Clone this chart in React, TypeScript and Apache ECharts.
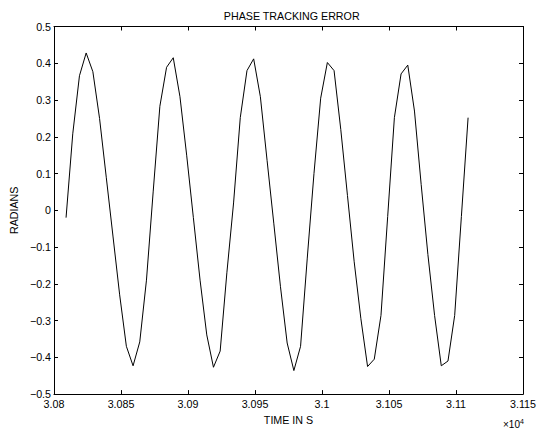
import React, { useEffect, useRef } from "react";
import * as echarts from "echarts";

const TITLE = "PHASE TRACKING ERROR";
const X_NAME = "TIME IN S";
const Y_NAME = "RADIANS";
const X_MIN = 30800;
const X_MAX = 31150;
const X_STEP = 50;
const Y_MIN = -0.5;
const Y_MAX = 0.5;
const Y_STEP = 0.1;

const times = [
  30809, 30814, 30819, 30824, 30829, 30834, 30839, 30844, 30849, 30854,
  30859, 30864, 30869, 30874, 30879, 30884, 30889, 30894, 30899, 30904,
  30909, 30914, 30919, 30924, 30929, 30934, 30939, 30944, 30949, 30954,
  30959, 30964, 30969, 30974, 30979, 30984, 30989, 30994, 30999, 31004,
  31009, 31014, 31019, 31024, 31029, 31034, 31039, 31044, 31049, 31054,
  31059, 31064, 31069, 31074, 31079, 31084, 31089, 31094, 31099, 31104,
  31109,
];

const errors = [
  -0.02, 0.208, 0.366, 0.428, 0.377, 0.25, 0.09, -0.07, -0.23, -0.37,
  -0.423, -0.358, -0.19, 0.05, 0.283, 0.389, 0.415, 0.309, 0.15, -0.02,
  -0.19, -0.339, -0.427, -0.383, -0.17, 0.02, 0.252, 0.38, 0.412, 0.309,
  0.136, -0.035, -0.208, -0.361, -0.436, -0.37, -0.13, 0.1, 0.305, 0.402,
  0.38, 0.22, 0.04, -0.14, -0.295, -0.425, -0.405, -0.286, -0.017, 0.252,
  0.371, 0.395, 0.27, 0.07, -0.12, -0.286, -0.423, -0.41, -0.286, -0.017,
  0.252,
];

const FONT = "'Liberation Sans', Arial, Helvetica, sans-serif";

export default function App() {
  const ref = useRef<HTMLDivElement>(null);

  useEffect(() => {
    document.body.style.margin = "0";
    const chart = echarts.init(ref.current!, null, { renderer: "svg" });
    const data = times.map((t, i) => [t, errors[i]]);
    const xFmt = (v: number) => String(+(v / 10000).toFixed(3));
    const yFmt = (v: number) => {
      const r = Math.round(v * 10) / 10;
      if (r === 0) return "0";
      return r < 0 ? "\u2212" + String(Math.abs(r)) : String(r);
    };
    const axisLine = { show: true, onZero: false, lineStyle: { color: "#000", width: 1 } };
    const axisTick = { show: true, inside: true, length: 4, lineStyle: { color: "#000", width: 1 } };
    chart.setOption({
      animation: false,
      backgroundColor: "#fff",
      textStyle: { fontFamily: FONT, color: "#000" },
      title: {
        text: TITLE,
        left: 286.7,
        textAlign: "center",
        top: 5,
        textStyle: { fontSize: 10.7, fontWeight: "normal", color: "#000", fontFamily: FONT },
      },
      grid: { left: 47.4, right: 13, top: 26.5, bottom: 25.5, containLabel: false },
      xAxis: [
        {
          type: "value",
          min: X_MIN,
          max: X_MAX,
          interval: X_STEP,
          position: "bottom",
          name: X_NAME,
          nameLocation: "middle",
          nameGap: 16,
          nameTextStyle: { fontSize: 10.7, color: "#000", fontFamily: FONT },
          axisLine,
          axisTick,
          splitLine: { show: false },
          axisLabel: { formatter: xFmt, fontSize: 10.7, color: "#000", margin: 4, fontFamily: FONT },
        },
        {
          type: "value",
          min: X_MIN,
          max: X_MAX,
          interval: X_STEP,
          position: "top",
          axisLine,
          axisTick,
          splitLine: { show: false },
          axisLabel: { show: false },
        },
      ],
      yAxis: [
        {
          type: "value",
          min: Y_MIN,
          max: Y_MAX,
          interval: Y_STEP,
          position: "left",
          name: Y_NAME,
          nameLocation: "middle",
          nameGap: 31,
          nameRotate: 90,
          nameTextStyle: { fontSize: 10.7, color: "#000", fontFamily: FONT },
          axisLine,
          axisTick,
          splitLine: { show: false },
          axisLabel: { formatter: yFmt, fontSize: 10.7, color: "#000", margin: 3, fontFamily: FONT },
        },
        {
          type: "value",
          min: Y_MIN,
          max: Y_MAX,
          interval: Y_STEP,
          position: "right",
          axisLine,
          axisTick,
          splitLine: { show: false },
          axisLabel: { show: false },
        },
      ],
      graphic: [
        {
          type: "text",
          left: 503,
          top: 418,
          style: {
            text: "\u00d710{sup|4}",
            fontSize: 10,
            fontFamily: FONT,
            fill: "#000",
            rich: { sup: { fontSize: 7, verticalAlign: "top", padding: [0, 0, 6, 0] } },
          },
        },
      ],
      series: [
        {
          type: "line",
          data,
          xAxisIndex: 0,
          yAxisIndex: 0,
          showSymbol: false,
          symbol: "none",
          lineStyle: { color: "#000", width: 1 },
        },
      ],
    });
    return () => chart.dispose();
  }, []);

  return <div ref={ref} style={{ width: 539, height: 430 }} />;
}
